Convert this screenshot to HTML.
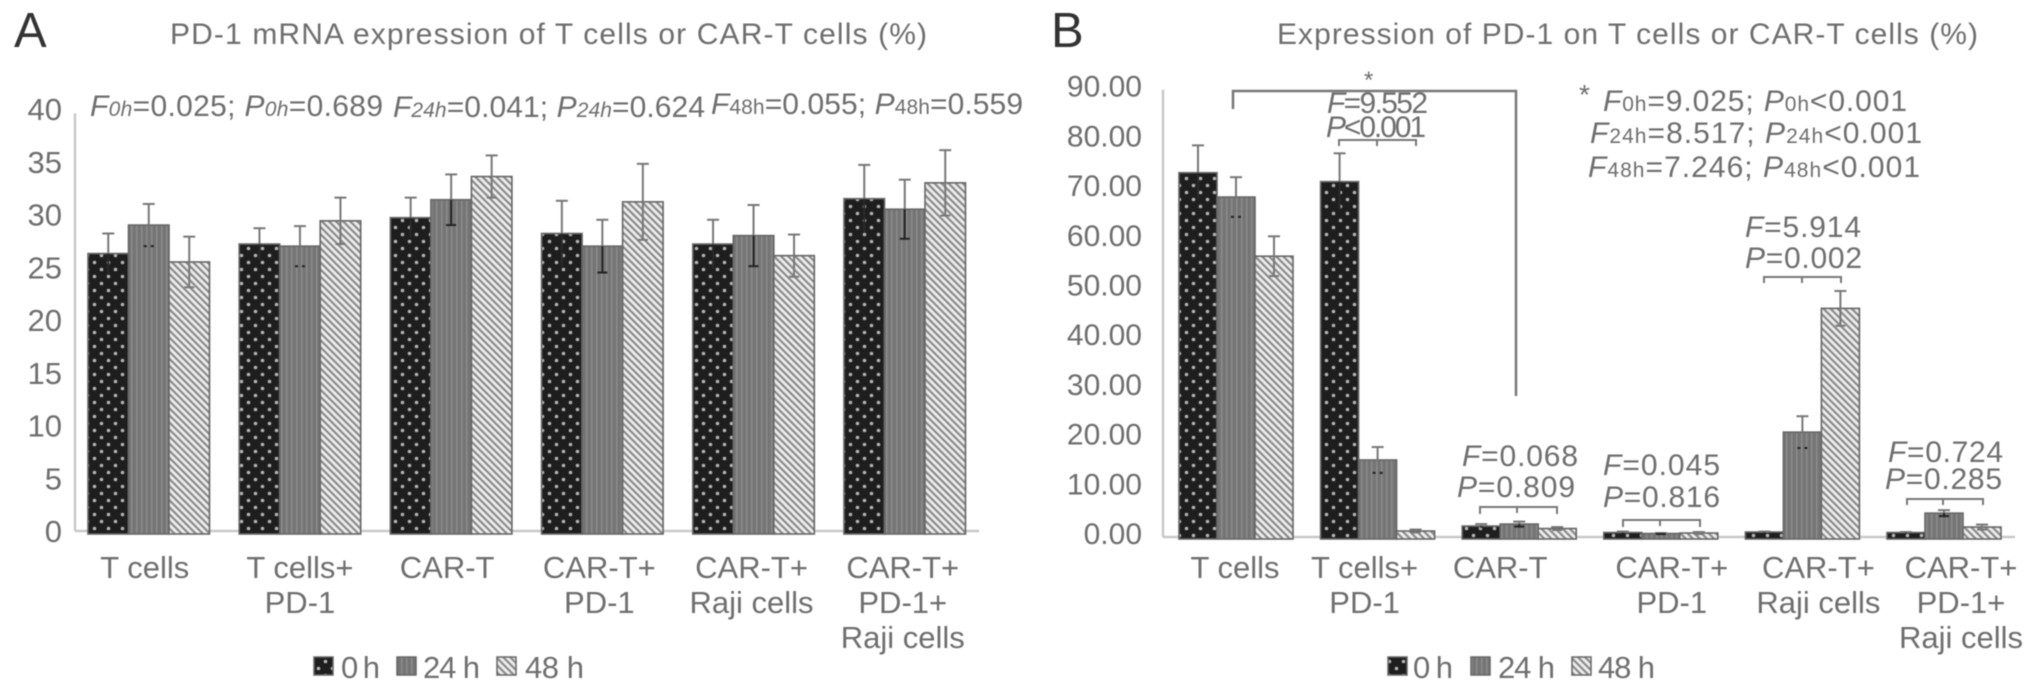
<!DOCTYPE html>
<html lang="en">
<head>
<meta charset="utf-8">
<title>PD-1 expression charts</title>
<style>
html,body{margin:0;padding:0;background:#fff;width:2032px;height:691px;overflow:hidden}
svg{display:block;filter:blur(0.55px)}
text{font-family:"Liberation Sans",sans-serif;fill:#6e6e6e}
.st{font-size:30px}
.sb{font-size:21px}
.it{font-style:italic}
.br{fill:none;stroke:#777;stroke-width:2}
</style>
</head>
<body>
<svg id="fig" xmlns="http://www.w3.org/2000/svg" width="2032" height="691" viewBox="0 0 2032 691">
<defs>
<pattern id="p-dots" patternUnits="userSpaceOnUse" width="14" height="14">
<rect width="14" height="14" fill="#1e1e1e"/><circle cx="3.5" cy="3.5" r="1.8" fill="#b4b4b4"/><circle cx="10.5" cy="10.5" r="1.8" fill="#b4b4b4"/>
</pattern>
<pattern id="p-vlines" patternUnits="userSpaceOnUse" width="5" height="5">
<rect width="5" height="5" fill="#757575"/><rect x="1" width="1.5" height="5" fill="#8c8c8c"/>
</pattern>
<pattern id="p-hatch" patternUnits="userSpaceOnUse" width="5" height="5" patternTransform="rotate(-45)">
<rect width="5" height="5" fill="#eeeeee"/><rect width="2.2" height="5" fill="#8a8a8a"/>
</pattern>
</defs>

<text x="14" y="47" font-size="49" style="fill:#333" textLength="32">A</text>
<text x="1051" y="47" font-size="49" style="fill:#333" textLength="31">B</text>
<text x="170" y="44" font-size="30" textLength="757">PD-1 mRNA expression of T cells or CAR-T cells (%)</text>
<text x="1277" y="44" font-size="30" textLength="701">Expression of PD-1 on T cells or CAR-T cells (%)</text>

<g>
<text class="st" x="90" y="116" textLength="293"><tspan class="it">F</tspan><tspan class="sb it">0h</tspan>=0.025; <tspan class="it">P</tspan><tspan class="sb it">0h</tspan>=0.689</text>
<text class="st" x="393" y="117" textLength="312"><tspan class="it">F</tspan><tspan class="sb it">24h</tspan>=0.041; <tspan class="it">P</tspan><tspan class="sb it">24h</tspan>=0.624</text>
<text class="st" x="711" y="114" textLength="312"><tspan class="it">F</tspan><tspan class="sb">48h</tspan>=0.055; <tspan class="it">P</tspan><tspan class="sb">48h</tspan>=0.559</text>
</g>

<g>
<text x="1579" y="104" font-size="28">*</text>
<text class="st" x="1603" y="111" textLength="304"><tspan class="it">F</tspan><tspan class="sb">0h</tspan>=9.025; <tspan class="it">P</tspan><tspan class="sb">0h</tspan>&lt;0.001</text>
<text class="st" x="1590" y="143" textLength="332"><tspan class="it">F</tspan><tspan class="sb">24h</tspan>=8.517; <tspan class="it">P</tspan><tspan class="sb">24h</tspan>&lt;0.001</text>
<text class="st" x="1588" y="177" textLength="332"><tspan class="it">F</tspan><tspan class="sb">48h</tspan>=7.246; <tspan class="it">P</tspan><tspan class="sb">48h</tspan>&lt;0.001</text>

<text class="st" x="1327" y="113" textLength="101"><tspan class="it">F</tspan>=9.552</text>
<text class="st" x="1326" y="137" textLength="100"><tspan class="it">P</tspan>&lt;0.001</text>
<text class="st" x="1462" y="466" textLength="116"><tspan class="it">F</tspan>=0.068</text>
<text class="st" x="1457" y="497" textLength="118"><tspan class="it">P</tspan>=0.809</text>
<text class="st" x="1603" y="475" textLength="117"><tspan class="it">F</tspan>=0.045</text>
<text class="st" x="1603" y="507" textLength="117"><tspan class="it">P</tspan>=0.816</text>
<text class="st" x="1745" y="237" textLength="116"><tspan class="it">F</tspan>=5.914</text>
<text class="st" x="1745" y="268" textLength="117"><tspan class="it">P</tspan>=0.002</text>
<text class="st" x="1888" y="462" textLength="115"><tspan class="it">F</tspan>=0.724</text>
<text class="st" x="1885" y="489" textLength="117"><tspan class="it">P</tspan>=0.285</text>

<text x="1364" y="88" font-size="24">*</text>
<path class="br" style="stroke-width:2.5" d="M1233 109V91H1516V396"/>
<path class="br" d="M1339 146V140H1416V146M1377 140V146"/>
<path class="br" d="M1480 514V507H1557V514M1517 507V513"/>
<path class="br" d="M1623 527V520H1700V527M1660 520V526"/>
<path class="br" d="M1764 283V277H1841V283M1802 277V283"/>
<path class="br" d="M1907 505V499H1983V505M1943 499V505"/>
</g>

<g id="chart-a"></g>
<g id="chart-b"></g>
</svg>

<script>
/* Shared */
const seriesNames = ['0 h', '24 h', '48 h'];

/* Chart A data */
const categoriesA = [['T cells'], ['T cells+', 'PD-1'], ['CAR-T'], ['CAR-T+', 'PD-1'], ['CAR-T+', 'Raji cells'], ['CAR-T+', 'PD-1+', 'Raji cells']];
const valuesA0h = [26.3, 27.2, 29.7, 28.2, 27.2, 31.5];
const valuesA24h = [29.0, 27.0, 31.4, 27.0, 28.0, 30.5];
const valuesA48h = [25.5, 29.4, 33.6, 31.2, 26.1, 33.0];
const errorsA0h = [1.9, 1.5, 1.9, 3.1, 2.3, 3.2];
const errorsA24h = [2.0, 1.9, 2.4, 2.5, 2.9, 2.8];
const errorsA48h = [2.4, 2.2, 2.0, 3.6, 2.0, 3.1];
const tickLabelsA = ['0', '5', '10', '15', '20', '25', '30', '35', '40'];
const tickValuesA = [0, 5, 10, 15, 20, 25, 30, 35, 40];

/* Chart B data */
const categoriesB = [['T cells'], ['T cells+', 'PD-1'], ['CAR-T'], ['CAR-T+', 'PD-1'], ['CAR-T+', 'Raji cells'], ['CAR-T+', 'PD-1+', 'Raji cells']];
const valuesB0h = [73.3, 71.5, 2.2, 0.9, 1.0, 0.9];
const valuesB24h = [68.4, 15.5, 2.6, 0.7, 21.1, 4.8];
const valuesB48h = [56.5, 1.2, 1.7, 0.8, 46.0, 2.0];
const errorsB0h = [5.5, 5.7, 0.4, 0.2, 0.1, 0.1];
const errorsB24h = [4.0, 2.6, 0.5, 0.1, 3.2, 0.6];
const errorsB48h = [4.0, 0.3, 0.3, 0.2, 3.5, 0.5];
const tickLabelsB = ['0.00', '10.00', '20.00', '30.00', '40.00', '50.00', '60.00', '70.00', '80.00', '90.00'];
const tickValuesB = [0, 10, 20, 30, 40, 50, 60, 70, 80, 90];

const SVG_NS = 'http://www.w3.org/2000/svg';
const fills = ['url(#p-dots)', 'url(#p-vlines)', 'url(#p-hatch)'];
const swatchKeys = ['0h', '24h', '48h'];

function mk(parent, tag, attrs, txt) {
  const el = document.createElementNS(SVG_NS, tag);
  for (const k in attrs) el.setAttribute(k, attrs[k]);
  if (txt !== undefined) el.textContent = txt;
  parent.appendChild(el);
  return el;
}

function drawChart(root, cfg) {
  const y = v => cfg.base - v * cfg.unit;
  const barX = (g, s) => cfg.x0 + g * cfg.step + s * cfg.barW;

  /* y axis line */
  const axisY = mk(root, 'line', {x1: cfg.axisX, x2: cfg.axisX, y1: y(cfg.axisMax), y2: cfg.base, stroke: '#c8c8c8', 'stroke-width': 2.5});
  
  
  const axisX = mk(root, 'line', {x1: cfg.axisX, x2: cfg.axisEnd, y1: cfg.base, y2: cfg.base, stroke: '#c8c8c8', 'stroke-width': 2.5});
  
  

  /* y tick labels */
  cfg.tickValues.forEach((tv, i) => {
    const t = mk(root, 'text', {x: cfg.tickRight, y: y(tv) + cfg.tickDy, 'text-anchor': 'end', 'font-size': cfg.tickSize}, cfg.tickLabels[i]);
    
    
  });

  /* bars */
  cfg.series.forEach((vals, s) => {
    vals.forEach((v, g) => {
      const top = y(v);
      const r = mk(root, 'rect', {x: barX(g, s), y: top, width: cfg.barW, height: cfg.base + cfg.barDrop - top, fill: fills[s], stroke: '#666', 'stroke-width': 1.6});
      
      
    });
  });

  /* error bars */
  cfg.series.forEach((vals, s) => {
    vals.forEach((v, g) => {
      const cx = barX(g, s) + cfg.barW / 2;
      const e = cfg.errors[s][g];
      const up = y(v + e), low = y(v - e), top = y(v);
      const grp = mk(root, 'g', {});
      
      
      mk(grp, 'line', {x1: cx, x2: cx, y1: up, y2: top, stroke: '#777', 'stroke-width': 2});
      mk(grp, 'line', {x1: cx - 6, x2: cx + 6, y1: up, y2: up, stroke: '#777', 'stroke-width': 2});
      if (s === 1 && cfg.capOnly.indexOf(g) >= 0) {
        mk(grp, 'line', {x1: cx - 5, x2: cx + 5, y1: low, y2: low, stroke: '#222', 'stroke-width': 2, 'stroke-dasharray': '3 4'});
      } else if (s === 0) {
        mk(grp, 'line', {x1: cx, x2: cx, y1: top, y2: low, stroke: '#2a2a2a', 'stroke-width': 2});
      } else {
        const col = s === 1 ? '#222' : '#777';
        mk(grp, 'line', {x1: cx, x2: cx, y1: top, y2: low, stroke: col, 'stroke-width': 2});
        mk(grp, 'line', {x1: cx - 5, x2: cx + 5, y1: low, y2: low, stroke: col, 'stroke-width': 2});
      }
    });
  });

  /* category labels */
  cfg.categories.forEach((lines, g) => {
    const cx = barX(g, 1) + cfg.barW / 2 + cfg.labelNudge[g];
    lines.forEach((line, li) => {
      const t = mk(root, 'text', {x: cx, y: 578 + li * 35, 'text-anchor': 'middle', 'font-size': 31}, line);
      
      
    });
  });

  /* legend */
  seriesNames.forEach((name, s) => {
    const entry = mk(root, 'g', {});
    
    
    mk(entry, 'rect', {x: cfg.legendSwatchX[s], y: 657, width: 19, height: 18, fill: fills[s], stroke: '#666', 'stroke-width': 1.5});
    mk(entry, 'text', {x: cfg.legendTextX[s], y: 678, 'font-size': 31, textLength: cfg.legendTextW[s]}, name);
  });
}

drawChart(document.getElementById('chart-a'), {
  base: 531, unit: 10.55, barDrop: 3, axisMax: 39.6, axisX: 75, axisEnd: 979,
  x0: 88, step: 151.2, barW: 40.5,
  tickValues: tickValuesA, tickLabels: tickLabelsA, tickRight: 62, tickDy: 11, tickSize: 31,
  series: [valuesA0h, valuesA24h, valuesA48h],
  errors: [errorsA0h, errorsA24h, errorsA48h],
  categories: categoriesA,
  labelNudge: [-4, 0, -4, -3, -2, -2],
  capOnly: [0, 1],
  legendSwatchX: [314, 397, 497], legendTextX: [341, 423, 525], legendTextW: [39, 57, 59]
});

drawChart(document.getElementById('chart-b'), {
  base: 537, unit: 4.97, barDrop: 2, axisMax: 90, axisX: 1163, axisEnd: 2015,
  x0: 1179, step: 141.6, barW: 38,
  tickValues: tickValuesB, tickLabels: tickLabelsB, tickRight: 1142, tickDy: 7, tickSize: 30,
  series: [valuesB0h, valuesB24h, valuesB48h],
  errors: [errorsB0h, errorsB24h, errorsB48h],
  categories: categoriesB,
  labelNudge: [-1, -13, -19, 11, 16, 17],
  capOnly: [0, 1, 4],
  legendSwatchX: [1388, 1471, 1572], legendTextX: [1413, 1498, 1598], legendTextW: [40, 57, 57]
});
</script>
</body>
</html>
